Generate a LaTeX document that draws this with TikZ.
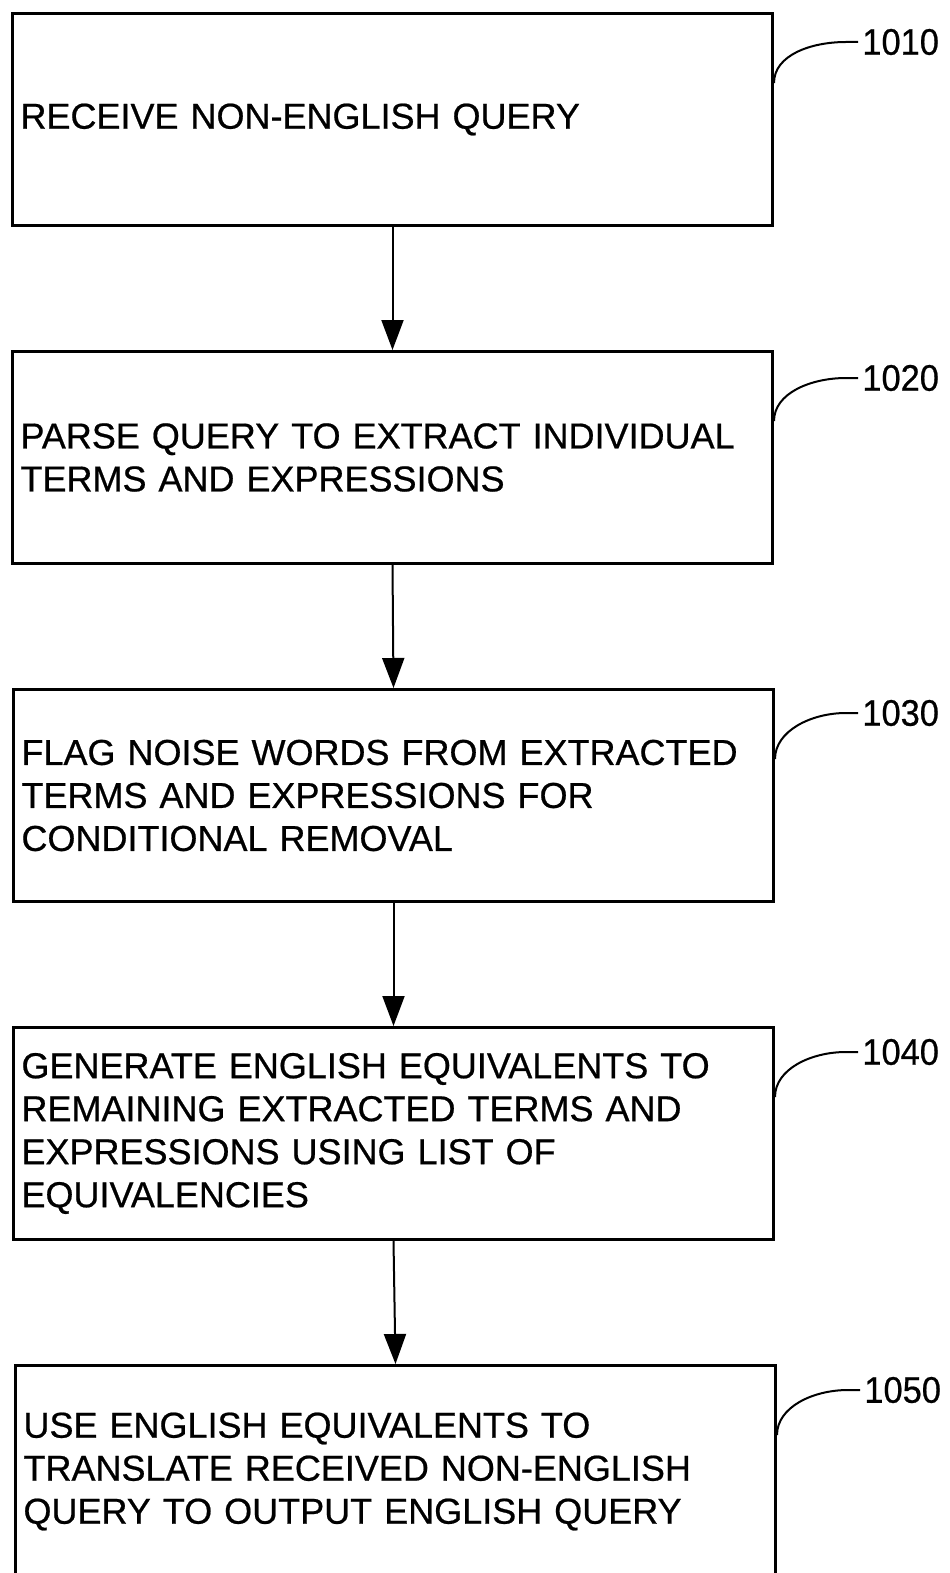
\documentclass[tikz,border=0pt]{standalone}
\usepackage{fontspec}
\setmainfont{Liberation Sans}[FakeBold=0.6]
\usetikzlibrary{arrows.meta}
\newcommand{\bxfont}{\fontsize{18}{21.5}\selectfont}
\newcommand{\rnfont}{\fontsize{18.5}{21.5}\selectfont\addfontfeature{FakeStretch=0.93}}

\begin{document}
\begin{tikzpicture}[x=0.5pt,y=-0.5pt,
  stepbox/.style={draw,line width=1.5pt,anchor=north west,minimum width=380pt,
    minimum height=106pt,text width=372pt,inner xsep=4pt,align=left,font=\bxfont},
  refnum/.style={anchor=west,inner sep=2pt,font=\rnfont},
  flowarrow/.style={line width=1pt,-{Triangle[length=15pt,width=11pt]}},
  callout/.style={line width=1pt}]
  \useasboundingbox (0,0) rectangle (949,1573);
  \node[stepbox] (s1) at (11,12) {RECEIVE NON-ENGLISH QUERY};
  \node[stepbox] (s2) at (11,350) {PARSE QUERY TO EXTRACT INDIVIDUAL\\TERMS AND EXPRESSIONS};
  \node[stepbox] (s3) at (12,688) {FLAG NOISE WORDS FROM EXTRACTED\\TERMS AND EXPRESSIONS FOR\\CONDITIONAL REMOVAL};
  \node[stepbox] (s4) at (12,1026) {GENERATE ENGLISH EQUIVALENTS TO\\REMAINING EXTRACTED TERMS AND\\EXPRESSIONS USING LIST OF\\EQUIVALENCIES};
  \node[stepbox] (s5) at (14,1364) {USE ENGLISH EQUIVALENTS TO\\TRANSLATE RECEIVED NON-ENGLISH\\QUERY TO OUTPUT ENGLISH QUERY};
  \node[refnum] (r1) at (858,42) {1010};
  \node[refnum] (r2) at (858,378) {1020};
  \node[refnum] (r3) at (858,713) {1030};
  \node[refnum] (r4) at (858,1052) {1040};
  \node[refnum] (r5) at (860,1390) {1050};
  \draw[flowarrow] (s1.south) -- (s2.north);
  \draw[flowarrow] (s2.south) -- (s3.north);
  \draw[flowarrow] (s3.south) -- (s4.north);
  \draw[flowarrow] (s4.south) -- (s5.north);
  \draw[callout] ([yshift=-35.5pt]s1.north east) .. controls +(0,-28) and +(-35,0) .. ([xshift=-6pt]r1.west) -- (r1.west);
  \draw[callout] ([yshift=-35.5pt]s2.north east) .. controls +(0,-28) and +(-35,0) .. ([xshift=-6pt]r2.west) -- (r2.west);
  \draw[callout] ([yshift=-35.5pt]s3.north east) .. controls +(0,-28) and +(-35,0) .. ([xshift=-6pt]r3.west) -- (r3.west);
  \draw[callout] ([yshift=-35.5pt]s4.north east) .. controls +(0,-28) and +(-35,0) .. ([xshift=-6pt]r4.west) -- (r4.west);
  \draw[callout] ([yshift=-35.5pt]s5.north east) .. controls +(0,-28) and +(-35,0) .. ([xshift=-6pt]r5.west) -- (r5.west);
\end{tikzpicture}
\end{document}
